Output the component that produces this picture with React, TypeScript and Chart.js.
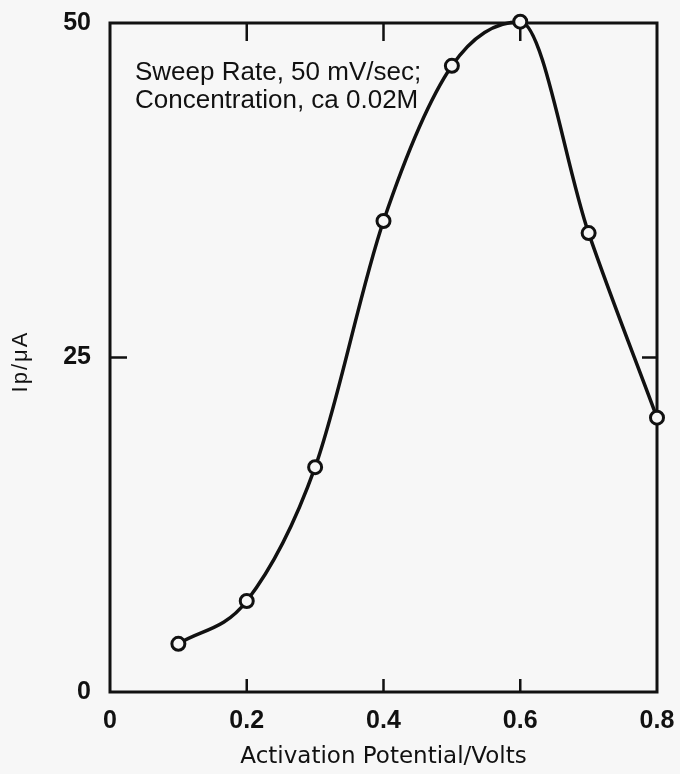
import React, { useEffect, useRef } from "react";
import { Chart, registerables } from "chart.js";

Chart.register(...registerables);

const potentials = [0.1, 0.2, 0.3, 0.4, 0.5, 0.6, 0.7, 0.8];
const peakCurrents = [3.6, 6.8, 16.8, 35.2, 46.8, 50.1, 34.3, 20.5];
const xTickValues = [0, 0.2, 0.4, 0.6, 0.8];
const yTickValues = [0, 25, 50];
const noteLines = ["Sweep Rate, 50 mV/sec;", "Concentration, ca 0.02M"];
const xTitle = "Activation Potential/Volts";
const yTitle = "Ip/\u03bcA";

const INK = "#111111";
const BG = "#f7f7f7";

const framePlugin = {
  id: "frame",
  beforeDraw(chart: any) {
    const ctx = chart.ctx;
    ctx.save();
    ctx.fillStyle = BG;
    ctx.fillRect(0, 0, chart.width, chart.height);
    ctx.restore();
  },
  beforeDatasetsDraw(chart: any) {
    const { ctx, chartArea } = chart;
    const { left, right, top, bottom } = chartArea;
    const xs = chart.scales.x;
    const ys = chart.scales.y;
    ctx.save();
    ctx.strokeStyle = INK;
    ctx.lineWidth = 3;
    ctx.lineCap = "square";
    ctx.strokeRect(left, top, right - left, bottom - top);
    ctx.lineWidth = 2.5;
    ctx.lineCap = "butt";
    xTickValues.forEach((v) => {
      if (v <= xs.min || v >= xs.max) return;
      const px = xs.getPixelForValue(v);
      ctx.beginPath();
      ctx.moveTo(px, bottom);
      ctx.lineTo(px, bottom - 13);
      ctx.moveTo(px, top);
      ctx.lineTo(px, top + 18);
      ctx.stroke();
    });
    yTickValues.forEach((v) => {
      if (v <= ys.min || v >= ys.max) return;
      const py = ys.getPixelForValue(v);
      ctx.beginPath();
      ctx.moveTo(left, py);
      ctx.lineTo(left + 17, py);
      ctx.moveTo(right, py);
      ctx.lineTo(right - 15, py);
      ctx.stroke();
    });
    ctx.restore();
  },
  afterDraw(chart: any) {
    const { ctx, chartArea } = chart;
    const ys = chart.scales.y;
    ctx.save();
    ctx.fillStyle = INK;
    ctx.font = "26px 'Liberation Sans'";
    ctx.textBaseline = "alphabetic";
    ctx.textAlign = "left";
    noteLines.forEach((t, i) => {
      ctx.fillText(t, chartArea.left + 25, chartArea.top + 57 + i * 28);
    });
    // rotated y-axis title
    const cy = ys.getPixelForValue(25) + 5;
    ctx.translate(21, cy);
    ctx.rotate(-Math.PI / 2);
    ctx.font = "22px 'Liberation Sans'";
    try {
      (ctx as any).letterSpacing = "2px";
    } catch (e) {}
    ctx.textAlign = "center";
    ctx.textBaseline = "middle";
    ctx.fillText(yTitle, 1, 0);
    ctx.restore();
  },
};

export default function App() {
  const ref = useRef<HTMLCanvasElement | null>(null);
  useEffect(() => {
    if (!ref.current) return;
    const chart = new Chart(ref.current, {
      type: "line",
      data: {
        datasets: [
          {
            data: potentials.map((x, i) => ({ x, y: peakCurrents[i] })),
            borderColor: INK,
            borderWidth: 3.5,
            cubicInterpolationMode: "monotone",
            pointRadius: 6.5,
            pointBorderWidth: 3,
            pointBackgroundColor: BG,
            pointBorderColor: INK,
            clip: false,
            fill: false,
          } as any,
        ],
      },
      options: {
        animation: false,
        responsive: true,
        maintainAspectRatio: false,
        layout: { padding: { top: 23, right: 23, left: 0, bottom: 0 } },
        plugins: { legend: { display: false }, tooltip: { enabled: false } },
        scales: {
          x: {
            type: "linear",
            min: 0,
            max: 0.8,
            afterBuildTicks: (s: any) => {
              s.ticks = xTickValues.map((v) => ({ value: v }));
            },
            afterFit: (s: any) => {
              s.height = 82;
              s.paddingLeft = 0;
              s.paddingRight = 0;
            },
            grid: { display: false, drawTicks: false },
            border: { display: false },
            ticks: {
              color: INK,
              padding: 14,
              maxRotation: 0,
              font: { family: "'Liberation Sans'", size: 25, weight: "bold" },
              callback: (v: any) => (v === 0 ? "0" : Number(v).toFixed(1)),
            },
            title: {
              display: true,
              text: xTitle,
              color: INK,
              font: { family: "'DejaVu Sans'", size: 23 },
              padding: { top: 0, bottom: 3 },
            },
          },
          y: {
            type: "linear",
            min: 0,
            max: 50,
            afterBuildTicks: (s: any) => {
              s.ticks = yTickValues.map((v) => ({ value: v }));
            },
            afterFit: (s: any) => {
              s.width = 110;
              s.paddingTop = 0;
              s.paddingBottom = 0;
            },
            grid: { display: false, drawTicks: false },
            border: { display: false },
            ticks: {
              color: INK,
              padding: 19,
              font: { family: "'Liberation Sans'", size: 25, weight: "bold" },
            },
            title: { display: false, text: yTitle },
          },
        },
      },
      plugins: [framePlugin],
    });
    return () => chart.destroy();
  }, []);
  return (
    <div style={{ position: "fixed", left: 0, top: 0, width: 680, height: 774, background: BG }}>
      <canvas ref={ref} />
    </div>
  );
}
